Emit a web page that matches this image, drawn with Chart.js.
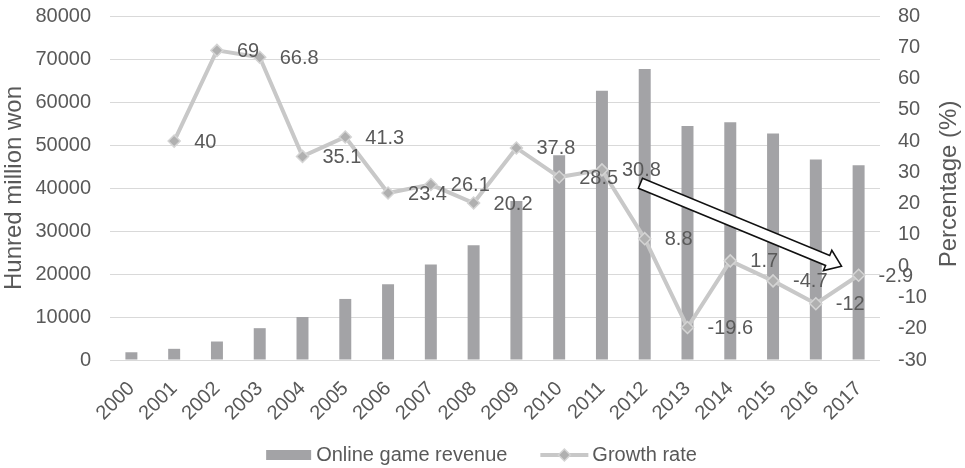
<!DOCTYPE html>
<html>
<head>
<meta charset="utf-8">
<script src="https://cdn.jsdelivr.net/npm/chart.js@4.4.0/dist/chart.umd.min.js"></script>
<style>
  body { margin: 0; background: #fff; }
  #wrap { width: 965px; height: 468px; }
</style>
</head>
<body>
<div id="wrap"><canvas id="gameChart"></canvas></div>
<script>
// Chart data
const years = ['2000', '2001', '2002', '2003', '2004', '2005', '2006', '2007', '2008',
  '2009', '2010', '2011', '2012', '2013', '2014', '2015', '2016', '2017'];
const revenue = [1800, 2600, 4300, 7400, 10000, 14200, 17600, 22200, 26700,
  37000, 47600, 62600, 67700, 54400, 55300, 52700, 46600, 45300];
const growthRate = [null, 40, 69, 66.8, 35.1, 41.3, 23.4, 26.1, 20.2,
  37.8, 28.5, 30.8, 8.8, -19.6, 1.7, -4.7, -12, -2.9];
const seriesNames = ['Online game revenue', 'Growth rate'];
const axisTitles = ['Hunred million won', 'Percentage (%)'];
// trend arrow, in (category index, percent)
const arrowFrom = [11.9, 26.5];
const arrowTo = [16.6, 0];

const FONT = '"Liberation Sans", Arial, sans-serif';
const TEXT = '#595959';
const BAR = '#a3a3a6';
const LINE = '#c8c8c8';
const MARK = '#b0b0b0';

// Block arrow showing the downward trend
const trendArrow = {
  id: 'trendArrow',
  afterDatasetsDraw(chart) {
    const ctx = chart.ctx;
    const xs = chart.scales.x, ys = chart.scales.y1;
    const x0 = xs.getPixelForValue(arrowFrom[0]), y0 = ys.getPixelForValue(arrowFrom[1]);
    const x1 = xs.getPixelForValue(arrowTo[0]), y1 = ys.getPixelForValue(arrowTo[1]);
    const len = Math.hypot(x1 - x0, y1 - y0);
    const ux = (x1 - x0) / len, uy = (y1 - y0) / len;
    const nx = -uy, ny = ux;
    const sw = 5.4, hw = 11, hl = 15;
    const bx = x1 - ux * hl, by = y1 - uy * hl;
    ctx.save();
    ctx.beginPath();
    ctx.moveTo(x0 + nx * sw, y0 + ny * sw);
    ctx.lineTo(bx + nx * sw, by + ny * sw);
    ctx.lineTo(bx + nx * hw, by + ny * hw);
    ctx.lineTo(x1, y1);
    ctx.lineTo(bx - nx * hw, by - ny * hw);
    ctx.lineTo(bx - nx * sw, by - ny * sw);
    ctx.lineTo(x0 - nx * sw, y0 - ny * sw);
    ctx.closePath();
    ctx.fillStyle = '#ffffff';
    ctx.fill();
    ctx.lineWidth = 1.6;
    ctx.strokeStyle = '#111111';
    ctx.lineJoin = 'miter';
    ctx.stroke();
    ctx.restore();
  }
};

// Value labels to the right of each growth point
const pointLabels = {
  id: 'pointLabels',
  afterDatasetsDraw(chart) {
    const ctx = chart.ctx;
    const meta = chart.getDatasetMeta(1);
    ctx.save();
    ctx.font = '20px ' + FONT;
    ctx.fillStyle = TEXT;
    ctx.textAlign = 'left';
    ctx.textBaseline = 'middle';
    meta.data.forEach((pt, i) => {
      const v = growthRate[i];
      if (v === null) return;
      ctx.fillText(String(v), pt.x + 20, pt.y + 1);
    });
    ctx.restore();
  }
};

// Right axis title (reads bottom to top) and legend
const extras = {
  id: 'extras',
  afterDraw(chart) {
    const ctx = chart.ctx;
    const area = chart.chartArea;
    ctx.save();
    ctx.fillStyle = TEXT;
    ctx.font = '24px ' + FONT;
    ctx.textAlign = 'center';
    ctx.textBaseline = 'middle';
    ctx.translate(949.5, (area.top + area.bottom) / 2 - 4);
    ctx.rotate(-Math.PI / 2);
    ctx.fillText(axisTitles[1], 0, 0);
    ctx.restore();

    // legend
    ctx.save();
    ctx.font = '20px ' + FONT;
    ctx.textBaseline = 'middle';
    ctx.textAlign = 'left';
    const w1 = ctx.measureText(seriesNames[0]).width;
    const w2 = ctx.measureText(seriesNames[1]).width;
    const total = 45 + 5 + w1 + 33 + 48 + 4 + w2;
    let x = chart.width / 2 - total / 2 - 1;
    const y = 455;
    ctx.fillStyle = BAR;
    ctx.fillRect(x, y - 5, 45, 10);
    x += 50;
    ctx.fillStyle = TEXT;
    ctx.fillText(seriesNames[0], x, y);
    x += w1 + 33;
    ctx.strokeStyle = LINE;
    ctx.lineWidth = 4;
    ctx.beginPath();
    ctx.moveTo(x, y);
    ctx.lineTo(x + 48, y);
    ctx.stroke();
    ctx.beginPath();
    ctx.moveTo(x + 24, y - 6);
    ctx.lineTo(x + 30, y);
    ctx.lineTo(x + 24, y + 6);
    ctx.lineTo(x + 18, y);
    ctx.closePath();
    ctx.fillStyle = MARK;
    ctx.fill();
    ctx.lineWidth = 1.5;
    ctx.strokeStyle = '#d4d4d4';
    ctx.stroke();
    x += 52;
    ctx.fillStyle = TEXT;
    ctx.fillText(seriesNames[1], x, y);
    ctx.restore();
  }
};

const ctx = document.getElementById('gameChart').getContext('2d');
new Chart(ctx, {
  data: {
    labels: years,
    datasets: [
      {
        type: 'bar',
        label: seriesNames[0],
        data: revenue,
        backgroundColor: BAR,
        categoryPercentage: 1,
        barPercentage: 0.28,
        yAxisID: 'y',
        order: 2
      },
      {
        type: 'line',
        label: seriesNames[1],
        data: growthRate,
        borderColor: LINE,
        borderWidth: 4,
        pointStyle: 'rectRot',
        pointRadius: 6,
        pointBackgroundColor: MARK,
        pointBorderColor: '#d4d4d4',
        pointBorderWidth: 1.5,
        tension: 0,
        yAxisID: 'y1',
        order: 1
      }
    ]
  },
  options: {
    responsive: true,
    maintainAspectRatio: false,
    animation: false,
    layout: { padding: { top: 16, left: 0, right: 0, bottom: 0 } },
    plugins: {
      legend: { display: false },
      tooltip: { enabled: false }
    },
    scales: {
      x: {
        grid: { display: false },
        border: { display: false },
        ticks: {
          color: TEXT,
          font: { family: FONT, size: 20 },
          minRotation: 45,
          maxRotation: 45,
          padding: 9
        },
        afterFit(scale) { scale.height = 108; }
      },
      y: {
        position: 'left',
        min: 0,
        max: 80000,
        ticks: {
          stepSize: 10000,
          color: TEXT,
          font: { family: FONT, size: 20 },
          padding: 19,
          callback: (v) => String(v)
        },
        grid: { color: '#d9d9d9', lineWidth: 1, drawTicks: false },
        border: { display: false },
        title: {
          display: true,
          text: axisTitles[0],
          color: TEXT,
          font: { family: FONT, size: 24 },
          padding: 0
        },
        afterFit(scale) { scale.width = 110; scale.paddingTop = 0; scale.paddingBottom = 0; }
      },
      y1: {
        position: 'right',
        min: -30,
        max: 80,
        ticks: {
          stepSize: 10,
          color: TEXT,
          font: { family: FONT, size: 20 },
          padding: 18
        },
        grid: { display: false, drawTicks: false },
        border: { display: false },
        afterFit(scale) { scale.width = 85; scale.paddingTop = 0; scale.paddingBottom = 0; }
      }
    }
  },
  plugins: [trendArrow, pointLabels, extras]
});
</script>
</body>
</html>
